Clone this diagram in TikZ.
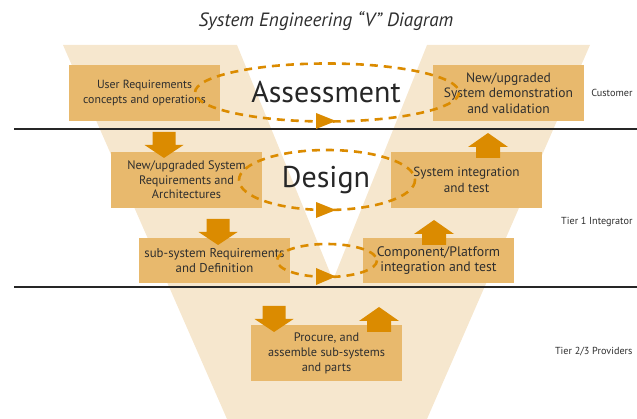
\documentclass[tikz,border=0pt]{standalone}
\usepackage{fontspec}
\setmainfont{PT Sans}
\usetikzlibrary{positioning}
\definecolor{vbg}{HTML}{F6E7CE}
\definecolor{boxfill}{HTML}{E8B96D}
\definecolor{dkorange}{HTML}{DB8B00}
\definecolor{txt}{HTML}{2E2E2E}

\begin{document}
\begin{tikzpicture}[x=1pt,y=-1pt,
  box/.style={fill=boxfill,minimum width=151pt,minimum height=56pt,inner sep=2pt,align=center,text=txt,font=\fontsize{12.8}{15}\selectfont},
  ring/.style={draw=dkorange,line width=2.6pt,dash pattern=on 8pt off 6pt},
  blk/.style={fill=dkorange},
  tier/.style={anchor=east,text=txt,font=\fontsize{10.2}{12}\selectfont},
  big/.style={text=black!85,font=\fontsize{30}{36}\selectfont},
  rule/.style={draw=black!85,line width=2.4pt}]
\useasboundingbox (0,0) rectangle (637,419);
% the V
\fill[vbg] (63,45) -- (237,45) -- (333,280) -- (427,45) -- (590,45) -- (427,419) -- (227,419) -- cycle;
\node[font=\itshape\fontsize{19.2}{22}\selectfont,text=txt] (title) at (326,21) {System Engineering “V” Diagram};
% tier lines
\coordinate (r1a) at (14,129); \coordinate (r1b) at (637,129);
\coordinate (r2a) at (14,287); \coordinate (r2b) at (637,287);
\draw[rule] (r1a) -- (r1b);
\draw[rule] (r2a) -- (r2b);
% boxes
\node[box,font=\fontsize{11.8}{15}\selectfont] (ureq) at (144.5,93) {User Requirements\\concepts and operations};
\node[box,font=\fontsize{13.5}{15.5}\selectfont] (demo) at (508.5,93) {New/upgraded\\System demonstration\\and validation};
\node[box,font=\fontsize{12.3}{14.5}\selectfont] (sreq) at (186.5,180) {New/upgraded System\\Requirements and\\Architectures};
\node[box,font=\fontsize{13.2}{15.5}\selectfont] (sint) at (466.5,180) {System integration\\and test};
\node[box,minimum height=45pt] (subreq) at (214.5,260.5) {sub-system Requirements\\and Definition};
\node[box,minimum height=45pt,font=\fontsize{13.8}{15.5}\selectfont] (cint) at (438.5,260.5) {Component/Platform\\integration and test};
\node[box,font=\fontsize{12.3}{15}\selectfont] (proc) at (326.5,353) {Procure, and\\assemble sub-systems\\and parts};
% dashed cycles
\draw[ring] (327,92.5) ellipse [x radius=132, y radius=29];
\draw[ring] (327,180) ellipse [x radius=88, y radius=30];
\draw[ring] (327,260.5) ellipse [x radius=50, y radius=16.5];
\fill[blk] (316,113) -- (336,121) -- (316,129) -- cycle;
\fill[blk] (316,202) -- (336,210) -- (316,218) -- cycle;
\fill[blk] (316,268) -- (336,276.5) -- (316,285) -- cycle;
% block arrows down the left arm
\fill[blk] (152.5,132) -- ++(23,0) -- ++(0,13) -- ++(8,0) -- ++(-19.5,13) -- ++(-19.5,-13) -- ++(8,0) -- cycle;
\fill[blk] (206.5,219) -- ++(23,0) -- ++(0,13) -- ++(8,0) -- ++(-19.5,13) -- ++(-19.5,-13) -- ++(8,0) -- cycle;
\fill[blk] (262.5,306) -- ++(23,0) -- ++(0,13) -- ++(8,0) -- ++(-19.5,13) -- ++(-19.5,-13) -- ++(8,0) -- cycle;
% block arrows up the right arm
\fill[blk] (488,133) -- ++(20,14) -- ++(-8,0) -- ++(0,11) -- ++(-24,0) -- ++(0,-11) -- ++(-8,0) -- cycle;
\fill[blk] (434,220) -- ++(20,14) -- ++(-8,0) -- ++(0,11) -- ++(-24,0) -- ++(0,-11) -- ++(-8,0) -- cycle;
\fill[blk] (379,307) -- ++(20,14) -- ++(-8,0) -- ++(0,11) -- ++(-24,0) -- ++(0,-11) -- ++(-8,0) -- cycle;
% phase words
\node[big] (assess) at (326,92) {Assessment};
\node[big] (design) at (326,180) {Design};
% tiers
\node[tier] (cust) at (636,93) {Customer};
\node[tier] (tier1) at (636,222) {Tier 1 Integrator};
\node[tier] (tier2) at (636,352) {Tier 2/3 Providers};
\end{tikzpicture}
\end{document}
